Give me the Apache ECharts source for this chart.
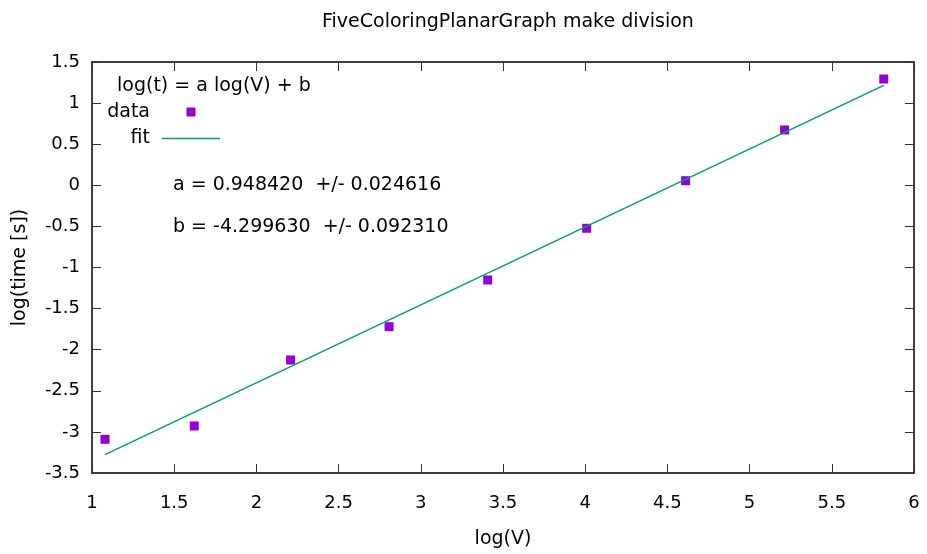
<!DOCTYPE html>
<html>
<head>
<meta charset="utf-8">
<script src="https://cdn.jsdelivr.net/npm/echarts@6/dist/echarts.min.js"></script>
<style>html,body{margin:0;padding:0;background:#fff}#c{width:927px;height:554px}</style>
</head>
<body>
<div id="c"></div>
<script>
var logV = [1.079, 1.622, 2.208, 2.807, 3.407, 4.009, 4.611, 5.213, 5.816];
var logTime = [-3.09, -2.928, -2.125, -1.72, -1.152, -0.523, 0.056, 0.673, 1.293];
var fitX = [1.079, 5.816];
var fitY = [-3.276, 1.216];
var titleText = 'FiveColoringPlanarGraph make division';
var legendHeader = 'log(t) = a log(V) + b';
var fitParamA = 'a = 0.948420  +/- 0.024616';
var fitParamB = 'b = -4.299630  +/- 0.092310';

var FONT = 'DejaVu Sans';
var TXT = '19px "DejaVu Sans"';
var chart = echarts.init(document.getElementById('c'), null, {renderer: 'canvas'});
function pairs(xs, ys) { return xs.map(function (x, i) { return [x, ys[i]]; }); }
var tickStyle = {show: true, inside: true, length: 9, lineStyle: {color: '#333', width: 1}};
var baseAxis = {
  splitLine: {show: false},
  axisLine: {show: true, onZero: false, lineStyle: {color: '#000', width: 1.5}},
  axisTick: tickStyle,
  axisLabel: {color: '#000', fontFamily: FONT, fontSize: 18}
};
chart.setOption({
  animation: false,
  title: {text: titleText, left: 317, top: 8,
    textStyle: {fontFamily: FONT, fontSize: 19, fontWeight: 'normal', color: '#000'}},
  grid: {left: 92, right: 13, top: 62, bottom: 81},
  xAxis: [
    Object.assign({}, baseAxis, {type: 'value', min: 1, max: 6, interval: 0.5, position: 'bottom',
      name: 'log(V)', nameLocation: 'middle', nameGap: 57,
      nameTextStyle: {fontFamily: FONT, fontSize: 19, color: '#000'},
      axisLabel: Object.assign({}, baseAxis.axisLabel, {margin: 21})}),
    Object.assign({}, baseAxis, {type: 'value', min: 1, max: 6, interval: 0.5, position: 'top',
      axisLabel: {show: false}})
  ],
  yAxis: [
    Object.assign({}, baseAxis, {type: 'value', min: -3.5, max: 1.5, interval: 0.5, position: 'left',
      name: 'log(time [s])', nameLocation: 'middle', nameGap: 62,
      nameTextStyle: {fontFamily: FONT, fontSize: 19, color: '#000'},
      axisLabel: Object.assign({}, baseAxis.axisLabel, {margin: 12})}),
    Object.assign({}, baseAxis, {type: 'value', min: -3.5, max: 1.5, interval: 0.5, position: 'right',
      axisLabel: {show: false}})
  ],
  series: [
    {name: 'fit', type: 'line', xAxisIndex: 0, yAxisIndex: 0, data: pairs(fitX, fitY),
      symbol: 'none', lineStyle: {color: '#009E73', width: 1.5}},
    {name: 'data', type: 'scatter', xAxisIndex: 0, yAxisIndex: 0, data: pairs(logV, logTime),
      symbol: 'rect', symbolSize: 9, itemStyle: {color: '#9400D3', opacity: 1}}
  ],
  graphic: [
    {type: 'text', x: 117, y: 86, style: {text: legendHeader, font: TXT, fill: '#000', align: 'left', verticalAlign: 'middle'}},
    {type: 'text', x: 150, y: 112, style: {text: 'data', font: TXT, fill: '#000', align: 'right', verticalAlign: 'middle'}},
    {type: 'rect', shape: {x: 186.5, y: 107.5, width: 9, height: 9}, style: {fill: '#9400D3'}},
    {type: 'text', x: 150, y: 138, style: {text: 'fit', font: TXT, fill: '#000', align: 'right', verticalAlign: 'middle'}},
    {type: 'line', shape: {x1: 162, y1: 138.5, x2: 220, y2: 138.5}, style: {stroke: '#009E73', lineWidth: 1.5}},
    {type: 'text', x: 173, y: 185, style: {text: fitParamA, font: TXT, fill: '#000', align: 'left', verticalAlign: 'middle'}},
    {type: 'text', x: 173, y: 227, style: {text: fitParamB, font: TXT, fill: '#000', align: 'left', verticalAlign: 'middle'}}
  ]
});
</script>
</body>
</html>
